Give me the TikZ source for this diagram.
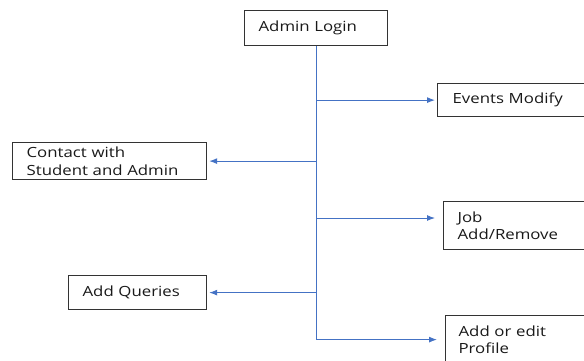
\documentclass[tikz,border=0pt]{standalone}
\usepackage{fontspec}
\setmainfont{Open Sans}[FakeStretch=1.2]
\usetikzlibrary{arrows.meta, positioning}
\definecolor{linkblue}{RGB}{68,114,196}

\begin{document}
\begin{tikzpicture}[x=1pt, y=-1pt, >={Latex[length=8pt, width=6pt]}, auto]
 \tikzstyle{block} = [rectangle, draw=black!80, line width=1.2pt, anchor=north west, align=left, inner ysep=2pt, text=black!90, font=\fontsize{14}{17.5}\selectfont]
 \tikzstyle{link} = [draw=linkblue, line width=1pt]
 \useasboundingbox (0,0) rectangle (584,360);
 \clip (0,0) rectangle (584,360);
   \node[block, inner xsep=14pt, text width=115pt, minimum height=35pt] (login) at (244,10) {Admin Login};
   \node[block, inner xsep=15pt, text width=160pt, minimum height=33pt] (events) at (437,83) {Events Modify};
   \node[block, inner xsep=14pt, text width=166pt, minimum height=37pt] (contact) at (12,142) {Contact with\\Student and Admin};
   \node[block, inner xsep=14pt, text width=160pt, minimum height=48pt] (job) at (443,201) {Job\\Add/Remove};
   \node[block, inner xsep=14pt, text width=110pt, minimum height=34pt] (queries) at (68,275) {Add Queries};
   \node[block, inner xsep=13pt, text width=160pt, minimum height=48pt] (profile) at (445,315) {Add or edit\\Profile};
   \coordinate (jobin) at ([yshift=-17pt]job.north west);

 % spine from the login box down to the last branch
 \draw[link] (login.south) -- (login.south |- profile.west);
 \path
	(login.south |- events.west) edge[link, ->, shorten >=2pt] (events.west)
	(login.south |- contact.east) edge[link, ->, shorten >=2pt] (contact.east)
	(login.south |- jobin) edge[link, ->, shorten >=8pt] (jobin)
	(login.south |- queries.east) edge[link, ->, shorten >=2pt] (queries.east)
	(login.south |- profile.west) edge[link, ->, shorten >=8pt] (profile.west);
\end{tikzpicture}
\end{document}
